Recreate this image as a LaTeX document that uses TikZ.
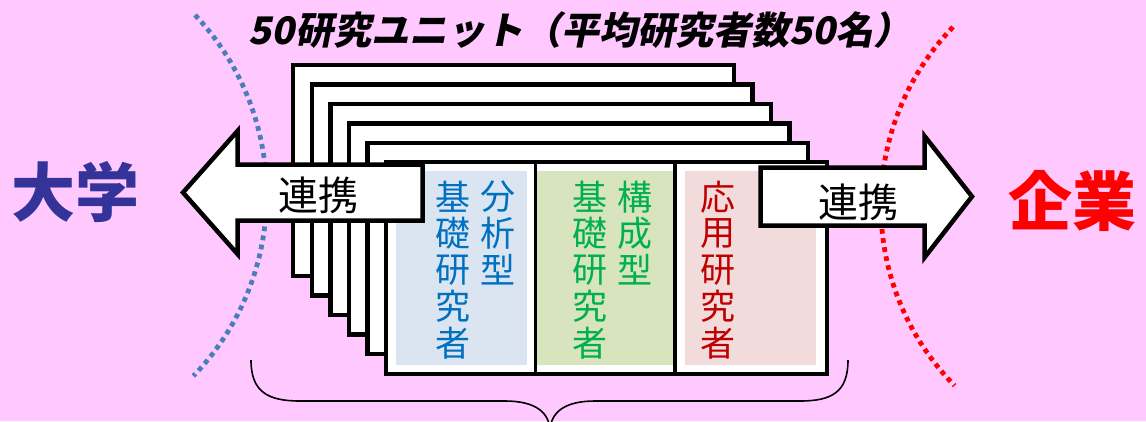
\documentclass[tikz,border=0pt]{standalone}
\usepackage{fontspec}
\newfontfamily\jp{Noto Sans CJK JP}
\newfontfamily\jpsl{Noto Sans CJK JP}[FakeSlant=0.2]
\definecolor{bgpink}{RGB}{255,201,255}
\definecolor{tblue}{HTML}{0070C0}
\definecolor{tgreen}{HTML}{00B050}
\definecolor{tred}{HTML}{C00000}
\definecolor{fblue}{HTML}{DBE5F1}
\definecolor{fgreen}{HTML}{D7E4BD}
\definecolor{fpink}{HTML}{F2DCDB}
\definecolor{univ}{HTML}{333399}
\definecolor{corp}{HTML}{FF0000}
\definecolor{dotblue}{HTML}{4A7EBB}
\tikzset{
  stackbox/.style={draw=black, fill=white, line width=4.5pt},
  colfill/.style={draw=none},
  divider/.style={draw=black, line width=3.5pt},
  dotarc/.style={line width=4.8pt, dash pattern=on 4.8pt off 4.4pt},
  arrowshape/.style={draw=black, fill=white, line width=4.5pt, line join=miter},
  coltext/.style={inner sep=0pt, font=\jp\fontsize{35}{36}\selectfont},
  arrtext/.style={inner sep=0pt, font=\jp\fontsize{40}{42}\selectfont, text=black},
  bigtext/.style={inner sep=0pt, font=\jp\bfseries\fontsize{64}{66}\selectfont},
  bracepath/.style={draw=black, line width=1.6pt}
}
\begin{document}
\begin{tikzpicture}[x=1pt,y=-1pt]
\fill[bgpink] (0,0) rectangle (1146,421);
\useasboundingbox (0,0) rectangle (1146,421);
% dotted arcs
\draw[dotarc, dotblue] (195,15) arc[start angle=-43.5, end angle=44, radius=261];
\draw[dotarc, corp] (953,27) arc[start angle=224, end angle=135.5, radius=257];
% stacked cards (back to front)
\foreach \i in {0,...,4} {
  \draw[stackbox] (293.2+18.6*\i, 65.2+19.45*\i) rectangle (733.8+18.6*\i, 275.8+19.6*\i);
}
% front card
\draw[stackbox] (386.2,162.2) rectangle (826.8,373.8);
\fill[fblue] (396,171) rectangle (527,365);
\fill[fgreen] (537,171) rectangle (673,365);
\fill[fpink] (685,171) rectangle (816,365);
\draw[divider] (535.5,162) -- (535.5,374);
\draw[divider] (675,162) -- (675,374);
% column texts
\foreach \c [count=\k from 0] in {基,礎,研,究,者}
  \node[coltext, text=tblue] (bl\k) at (453,197+36.5*\k) {\c};
\foreach \c [count=\k from 0] in {分,析,型}
  \node[coltext, text=tblue] (br\k) at (498,197+36.5*\k) {\c};
\foreach \c [count=\k from 0] in {基,礎,研,究,者}
  \node[coltext, text=tgreen] (gl\k) at (590,197+36.5*\k) {\c};
\foreach \c [count=\k from 0] in {構,成,型}
  \node[coltext, text=tgreen] (gr\k) at (635,197+36.5*\k) {\c};
\foreach \c [count=\k from 0] in {応,用,研,究,者}
  \node[coltext, text=tred] (rl\k) at (718,197+36.5*\k) {\c};
% left arrow
\draw[arrowshape] (183,192.5) -- (237.5,131) -- (237.5,164.5) -- (422.5,164.5)
  -- (422.5,220.5) -- (237.5,220.5) -- (237.5,254) -- cycle;
\node[arrtext] (lt) at (318,195) {連携};
% right arrow
\draw[arrowshape] (972,196.5) -- (924.5,136) -- (924.5,167.5) -- (760.5,167.5)
  -- (760.5,225.5) -- (924.5,225.5) -- (924.5,257.5) -- cycle;
\node[arrtext] (rt) at (858,202) {連携};
% labels
\node[bigtext, text=univ] (univ) at (76,192) {大学};
\node[bigtext, text=corp] (corp) at (1072,201) {企業};
\node[inner sep=0pt, font=\jpsl\bfseries\fontsize{38}{40}\selectfont] (title) at (580,30) {50研究ユニット（平均研究者数50名）};
% brace
\draw[bracepath] (251,360) .. controls (251,392) and (268,401) .. (300,401) -- (505,401)
  .. controls (535,401) and (550,412) .. (550,432);
\draw[bracepath] (550,432) .. controls (550,412) and (565,401) .. (595,401) -- (800,401)
  .. controls (832,401) and (848,392) .. (848,360);
\end{tikzpicture}
\end{document}
